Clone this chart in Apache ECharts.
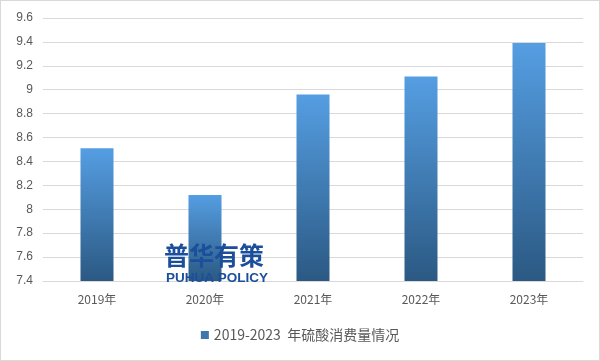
<!DOCTYPE html>
<html><head><meta charset="utf-8">
<script src="https://cdn.jsdelivr.net/npm/echarts@6/dist/echarts.min.js"></script>
<style>html,body{margin:0;padding:0;background:#fff}#c{width:600px;height:361px;box-sizing:border-box;border:1px solid #d9d9d9}</style>
</head><body><div id="c"></div>
<script>
const categories = ['2019年','2020年','2021年','2022年','2023年'];
const values = [8.51, 8.12, 8.96, 9.11, 9.39];
const seriesName = '2019-2023  年硫酸消费量情况';
const chart = echarts.init(document.getElementById('c'));
const grad = new echarts.graphic.LinearGradient(0,0,0,1,[{offset:0,color:'#559ee2'},{offset:1,color:'#2b5983'}]);
chart.setOption({
  animation:false,
  grid:{left:42,right:16,top:17,bottom:79},
  legend:{bottom:13,left:'center',itemWidth:8,itemHeight:8,icon:'rect',itemGap:10,
    textStyle:{color:'#595959',fontSize:14,fontFamily:'Noto Sans CJK SC'},data:[{name:seriesName,itemStyle:{color:'#3e77ad'}}]},
  xAxis:{type:'category',data:categories,axisLine:{lineStyle:{color:'#d9d9d9'}},axisTick:{show:false},
    axisLabel:{color:'#595959',fontSize:12,margin:12,fontFamily:'Noto Sans CJK SC'}},
  yAxis:{type:'value',min:7.4,max:9.6,interval:0.2,
    axisLabel:{color:'#595959',fontSize:12,margin:10,formatter:v=>String(+v.toFixed(1))},
    splitLine:{lineStyle:{color:'#d9d9d9'}},axisLine:{show:false},axisTick:{show:false}},
  series:[{name:seriesName,type:'bar',data:values,barWidth:33,itemStyle:{color:grad}}],
  graphic:[
    {type:'text',z:100,left:163,top:242,style:{text:'普华有策',fill:'#1b4f9c',font:'bold 25px "Noto Sans CJK SC"'}},
    {type:'text',z:100,left:165,top:270,style:{text:'PUHUA POLICY',fill:'#1b4f9c',font:'bold 13.5px "Liberation Sans"'}}
  ]
});
</script></body></html>
